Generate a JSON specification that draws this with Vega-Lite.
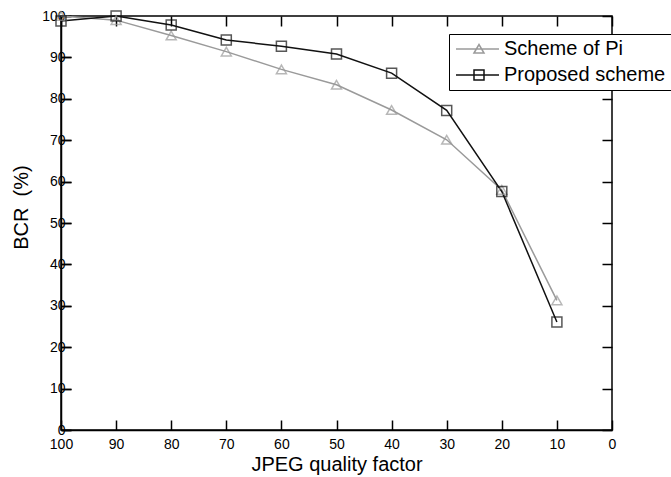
{
  "$schema": "https://vega.github.io/schema/vega-lite/v6.json",
  "width": 551,
  "height": 414,
  "autosize": "none",
  "padding": {"left": 61, "top": 16, "right": 59, "bottom": 47},
  "background": "white",
  "config": {
    "font": "Liberation Sans",
    "view": {"stroke": "black", "strokeWidth": 1.5},
    "axis": {
      "grid": false,
      "domainColor": "black",
      "domainWidth": 1.5,
      "tickColor": "black",
      "tickWidth": 1.5,
      "labelColor": "black",
      "labelFontSize": 14,
      "titleColor": "black",
      "titleFontSize": 20,
      "titleFontWeight": "normal",
      "zindex": 1
    }
  },
  "data": {
    "values": [
      {"q": 100, "bcr": 100, "scheme": "Scheme of Pi"},
      {"q": 90, "bcr": 99, "scheme": "Scheme of Pi"},
      {"q": 80, "bcr": 95.3, "scheme": "Scheme of Pi"},
      {"q": 70, "bcr": 91.4, "scheme": "Scheme of Pi"},
      {"q": 60, "bcr": 87.1, "scheme": "Scheme of Pi"},
      {"q": 50, "bcr": 83.4, "scheme": "Scheme of Pi"},
      {"q": 40, "bcr": 77.3, "scheme": "Scheme of Pi"},
      {"q": 30, "bcr": 70.1, "scheme": "Scheme of Pi"},
      {"q": 20, "bcr": 58, "scheme": "Scheme of Pi"},
      {"q": 10, "bcr": 31.3, "scheme": "Scheme of Pi"},
      {"q": 100, "bcr": 98.8, "scheme": "Proposed scheme"},
      {"q": 90, "bcr": 100, "scheme": "Proposed scheme"},
      {"q": 80, "bcr": 97.8, "scheme": "Proposed scheme"},
      {"q": 70, "bcr": 94.2, "scheme": "Proposed scheme"},
      {"q": 60, "bcr": 92.7, "scheme": "Proposed scheme"},
      {"q": 50, "bcr": 90.8, "scheme": "Proposed scheme"},
      {"q": 40, "bcr": 86.2, "scheme": "Proposed scheme"},
      {"q": 30, "bcr": 77.2, "scheme": "Proposed scheme"},
      {"q": 20, "bcr": 57.6, "scheme": "Proposed scheme"},
      {"q": 10, "bcr": 26.1, "scheme": "Proposed scheme"}
    ]
  },
  "layer": [
    {
      "mark": {"type": "line", "strokeWidth": 1.5},
      "encoding": {
        "x": {
          "field": "q", "type": "quantitative",
          "scale": {"domain": [0, 100], "reverse": true, "nice": false},
          "axis": {"orient": "bottom", "title": "JPEG quality factor", "values": [0,10,20,30,40,50,60,70,80,90,100], "tickSize": 10, "tickColor": "white", "labelPadding": -3, "titlePadding": 3, "labelFlush": false}
        },
        "y": {
          "field": "bcr", "type": "quantitative",
          "scale": {"domain": [0, 100], "nice": false},
          "axis": {"orient": "left", "title": "BCR \u00a0(%)", "values": [0,10,20,30,40,50,60,70,80,90,100], "tickSize": -10, "tickColor": "black", "labelPadding": 6, "titleX": -34, "titleY": 191, "titleBaseline": "alphabetic", "titleAlign": "center", "labelFlush": false}
        },
        "color": {
          "field": "scheme", "type": "nominal",
          "scale": {"domain": ["Scheme of Pi", "Proposed scheme"], "range": ["#9a9a9a", "#111111"]},
          "legend": {
            "title": null,
            "orient": "none",
            "legendX": 388,
            "legendY": 18,
            "direction": "vertical",
            "strokeColor": "black",
            "fillColor": "white",
            "padding": 5,
            "labelFontSize": 20,
            "labelColor": "black",
            "labelOffset": 30,
            "labelLimit": 300,
            "rowPadding": 6,
            "symbolSize": 100,
            "symbolStrokeWidth": 1.5,
            "encode": {
              "symbols": {
                "update": {
                  "shape": {"signal": "datum.value === 'Scheme of Pi' ? 'M-1.6,0H7M2,0.8L3,-0.9L4,0.8Z' : 'M-1.6,0H7M2,-1H4V1H2Z'"},
                  "fill": {"value": "transparent"},
                  "strokeWidth": {"value": 1.5}
                }
              }
            }
          }
        }
      }
    },
    {
      "transform": [{"filter": "datum.scheme === 'Scheme of Pi'"}],
      "mark": {"type": "point", "filled": false, "size": 100, "strokeWidth": 1.5, "shape": "triangle-up"},
      "encoding": {
        "x": {
          "field": "q", "type": "quantitative",
          "scale": {"domain": [0, 100], "reverse": true, "nice": false},
          "axis": {"orient": "top", "offset": -414, "title": null, "labels": false, "domain": false, "values": [0,10,20,30,40,50,60,70,80,90,100], "tickSize": 10, "tickColor": "black"}
        },
        "y": {
          "field": "bcr", "type": "quantitative",
          "scale": {"domain": [0, 100], "nice": false},
          "axis": {"orient": "right", "offset": -551, "title": null, "labels": false, "domain": false, "values": [0,10,20,30,40,50,60,70,80,90,100], "tickSize": 10, "tickColor": "black"}
        },
        "color": {"field": "scheme", "type": "nominal", "legend": null}
      }
    },
    {
      "transform": [{"filter": "datum.scheme === 'Proposed scheme'"}],
      "mark": {"type": "point", "filled": false, "size": 100, "strokeWidth": 1.5, "shape": "square"},
      "encoding": {
        "x": {
          "field": "q", "type": "quantitative",
          "scale": {"domain": [0, 100], "reverse": true, "nice": false},
          "axis": {"orient": "bottom", "offset": -414, "title": null, "labels": false, "domain": false, "values": [0,10,20,30,40,50,60,70,80,90,100], "tickSize": 10, "tickColor": "black"}
        },
        "y": {
          "field": "bcr", "type": "quantitative",
          "scale": {"domain": [0, 100], "nice": false},
          "axis": {"orient": "left", "offset": -551, "title": null, "labels": false, "domain": false, "values": [0,10,20,30,40,50,60,70,80,90,100], "tickSize": 10, "tickColor": "black"}
        },
        "color": {"field": "scheme", "type": "nominal", "legend": null}
      }
    }
  ],
  "resolve": {"axis": {"x": "independent", "y": "independent"}}
}
